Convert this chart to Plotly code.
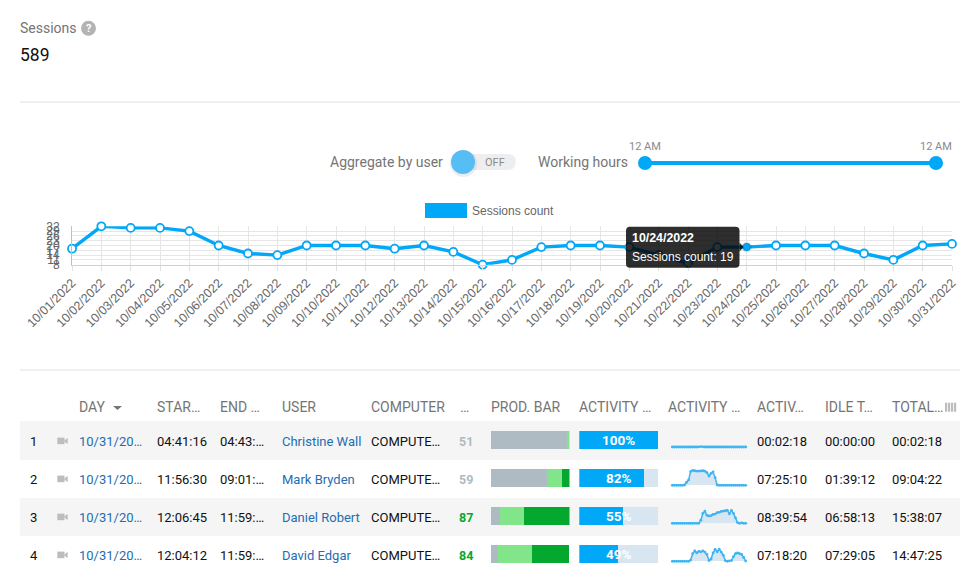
import plotly.graph_objects as go

W = 980
H = 587

# chart data
days = ['10/%02d/2022' % d for d in range(1, 32)]
sessions = [18, 32, 31, 31, 29, 20, 15, 14, 20, 20, 20, 18, 20, 16, 8, 11,
            19, 20, 20, 19, 14, 9, 19, 19, 20, 20, 20, 15, 11, 20, 21]
y_ticks = [8, 11, 14, 17, 20, 23, 26, 29, 32]

# table data
headers = ['DAY', 'STAR…', 'END …', 'USER', 'COMPUTER', '…', 'PROD. BAR',
           'ACTIVITY …', 'ACTIVITY …', 'ACTIV…', 'IDLE T…', 'TOTAL…']
row_no = ['1', '2', '3', '4']
row_day = ['10/31/20…', '10/31/20…', '10/31/20…', '10/31/20…']
row_start = ['04:41:16', '11:56:30', '12:06:45', '12:04:12']
row_end = ['04:43:…', '09:01:…', '11:59:…', '11:59:…']
row_user = ['Christine Wall', 'Mark Bryden', 'Daniel Robert', 'David Edgar']
row_computer = ['COMPUTE…', 'COMPUTE…', 'COMPUTE…', 'COMPUTE…']
row_score = ['51', '59', '87', '84']
row_active = ['00:02:18', '07:25:10', '08:39:54', '07:18:20']
row_idle = ['00:00:00', '01:39:12', '06:58:13', '07:29:05']
row_total = ['00:02:18', '09:04:22', '15:38:07', '14:47:25']

prod_gray = [97, 72, 12, 9]
prod_light = [3, 18, 30, 44]
prod_dark = [0, 10, 58, 46]
activity = [100, 82, 55, 49]
activity_rest = [0, 18, 45, 51]

spark1 = [0, 0, 0, 0, 0, 0, 0, 0, 0, 0, 0, 0, 0, 1, 3, 1, 0, 0, 0,
          0, 0, 0, 0, 0, 0, 0, 0, 0, 0, 0, 0, 0, 0, 0, 0, 0, 0]
spark2 = [0, 0, 0, 0, 0, 0, 2, 20, 35, 90, 98, 95, 93, 93, 94, 95, 92, 83, 60,
          78, 88, 50, 2, 0, 0, 0, 0, 0, 0, 0, 0, 0, 0, 0, 0, 0, 0]
spark3 = [0, 0, 0, 0, 0, 0, 0, 0, 0, 0, 0, 0, 0, 0, 20, 65, 80, 52, 48,
          50, 58, 60, 70, 72, 78, 80, 82, 85, 62, 85, 65, 35, 5, 0, 3, 0, 0]
spark4 = [0, 0, 0, 0, 0, 0, 0, 0, 0, 8, 50, 68, 55, 65, 62, 68, 60, 45, 5,
          15, 55, 78, 62, 80, 60, 40, 5, 0, 3, 5, 30, 50, 55, 50, 45, 25, 2]
sparks = [spark1, spark2, spark3, spark4]

BLUE = '#00a8f7'
GRAY = '#757575'
LINK = '#1f6db2'
ROBOTO = 'Roboto'


def fx(x):
    return x / W


def fy(y):
    return 1 - y / H


def pt(x, y):
    return '%.5f,%.5f' % (fx(x), fy(y))


def rect(x0, y0, x1, y1, color, layer='above'):
    return dict(type='rect', xref='paper', yref='paper', x0=fx(x0), x1=fx(x1), y0=fy(y0), y1=fy(y1),
                fillcolor=color, line=dict(width=0), layer=layer)


def circle(cx, cy, r, color):
    return dict(type='circle', xref='paper', yref='paper', x0=fx(cx - r), x1=fx(cx + r),
                y0=fy(cy - r), y1=fy(cy + r), fillcolor=color, line=dict(width=0))


def line(x0, y0, x1, y1, color, width=1):
    return dict(type='line', xref='paper', yref='paper', x0=fx(x0), x1=fx(x1), y0=fy(y0), y1=fy(y1),
                line=dict(color=color, width=width))


def round_rect(x0, y0, x1, y1, r, color):
    p = 'M ' + pt(x0 + r, y0) + ' L ' + pt(x1 - r, y0) + ' Q ' + pt(x1, y0) + ' ' + pt(x1, y0 + r)
    p += ' L ' + pt(x1, y1 - r) + ' Q ' + pt(x1, y1) + ' ' + pt(x1 - r, y1)
    p += ' L ' + pt(x0 + r, y1) + ' Q ' + pt(x0, y1) + ' ' + pt(x0, y1 - r)
    p += ' L ' + pt(x0, y0 + r) + ' Q ' + pt(x0, y0) + ' ' + pt(x0 + r, y0) + ' Z'
    return dict(type='path', xref='paper', yref='paper', path=p, fillcolor=color, line=dict(width=0))


def poly(points, color):
    p = 'M ' + ' L '.join(pt(x, y) for x, y in points) + ' Z'
    return dict(type='path', xref='paper', yref='paper', path=p, fillcolor=color, line=dict(width=0))


def label(x, y, text, size=13, color='#111111', anchor='left', bold=False, font=ROBOTO):
    if bold:
        text = '<b>' + text + '</b>'
    return dict(xref='paper', yref='paper', x=fx(x), y=fy(y), text=text, showarrow=False,
                xanchor=anchor, yanchor='middle', font=dict(family=font, size=size, color=color),
                borderpad=0, borderwidth=0)


fig = go.Figure()

# main line chart
marker_fill = ['white'] * len(days)
marker_line = [BLUE] * len(days)
marker_size = [8] * len(days)
marker_width = [1.8] * len(days)
marker_fill[23] = BLUE
marker_line[23] = 'rgba(0,0,0,0.1)'
marker_size[23] = 8
marker_width[23] = 2.5
fig.add_trace(go.Scatter(x=days, y=sessions, mode='lines+markers', cliponaxis=False,
                         line=dict(color=BLUE, width=3.4),
                         marker=dict(color=marker_fill, size=marker_size, opacity=1,
                                     line=dict(color=marker_line, width=marker_width))))

# prod bar
bar_x = dict(xaxis='x2', yaxis='y2', orientation='h', width=0.474, marker_line_width=0)
fig.add_trace(go.Bar(x=prod_gray, y=[0, 1, 2, 3], marker_color='#aebbc2', **bar_x))
fig.add_trace(go.Bar(x=prod_light, y=[0, 1, 2, 3], marker_color='#82e58a', **bar_x))
fig.add_trace(go.Bar(x=prod_dark, y=[0, 1, 2, 3], marker_color='#04a82e', **bar_x))

# activity bar
bar_a = dict(xaxis='x3', yaxis='y2', orientation='h', width=0.474, marker_line_width=0)
fig.add_trace(go.Bar(x=activity, y=[0, 1, 2, 3], marker_color=BLUE, **bar_a))
fig.add_trace(go.Bar(x=activity_rest, y=[0, 1, 2, 3], marker_color='#d7e6f0', **bar_a))

# sparklines
spark_base = [447, 485.3, 523.3, 561.3]
for i in range(4):
    fig.add_trace(go.Scatter(x=list(range(len(sparks[i]))), y=sparks[i], mode='lines+markers',
                             xaxis='x%d' % (i + 4), yaxis='y%d' % (i + 3), cliponaxis=False,
                             line=dict(color='#3fb4f2', width=1.5),
                             marker=dict(color='#3fb4f2', size=2.8),
                             fill='tozeroy', fillcolor='#d7e6f0'))
    fig.layout['xaxis%d' % (i + 4)] = dict(domain=[fx(672.3), fx(745.7)], range=[0, 36], visible=False,
                                           anchor='y%d' % (i + 3), automargin=False)
    fig.layout['yaxis%d' % (i + 3)] = dict(domain=[fy(spark_base[i]), fy(spark_base[i] - 15.3)],
                                           range=[0, 100], visible=False, anchor='x%d' % (i + 4),
                                           automargin=False)

shapes = []
annots = []

# header
annots.append(label(20, 28, 'Sessions', 14, GRAY))
shapes.append(circle(88.5, 28.3, 7.5, '#b3b3b3'))
annots.append(label(88.5, 28.5, '?', 11, 'white', 'center', True))
annots.append(label(20, 55, '589', 17.5, '#111111'))
shapes.append(line(20, 102, 960, 102, '#e2e2e2'))
shapes.append(line(20, 370, 960, 370, '#e2e2e2'))

# toggle and slider
annots.append(label(330, 162.5, 'Aggregate by user', 14, GRAY))
shapes.append(round_rect(452, 154, 515.7, 170, 8, '#eeeeee'))
shapes.append(circle(463.5, 163.5, 13.5, 'rgba(0,0,0,0.07)'))
shapes.append(circle(463, 162, 12, '#56bdf5'))
annots.append(label(495, 162.5, 'OFF', 11, '#8a8a8a', 'center'))
annots.append(label(538, 162.5, 'Working hours', 14, GRAY))
annots.append(label(645, 146.5, '12 AM', 11, '#8a8a8a', 'center'))
annots.append(label(936, 146.5, '12 AM', 11, '#8a8a8a', 'center'))
shapes.append(line(645, 163, 936, 163, BLUE, 4))
shapes.append(circle(645, 163, 7, BLUE))
shapes.append(circle(936, 163, 7, BLUE))

# legend
shapes.append(rect(425, 203, 467, 218, BLUE))
annots.append(label(472, 211, 'Sessions count', 12, '#666666', font='Liberation Sans'))

# tooltip
shapes.append(round_rect(626, 226.7, 739.5, 267.7, 4, 'rgba(0,0,0,0.82)'))
shapes.append(poly([(739.5, 242.5), (743.5, 247), (739.5, 251.5)], 'rgba(0,0,0,0.82)'))
annots.append(label(632, 238, '10/24/2022', 12.4, 'white', bold=True, font='Liberation Sans'))
annots.append(label(632, 257, '<span>Sessions count: 19</span>', 12, 'white', font='Liberation Sans'))

# table stripes and header
shapes.append(rect(20, 421, 960, 460, '#f5f5f5', 'below'))
shapes.append(rect(20, 498, 960, 536, '#f5f5f5', 'below'))
head_x = [79, 157, 219.5, 282, 371, 460, 491, 579, 668, 757, 824.5, 892]
for x, h in zip(head_x, headers):
    annots.append(label(x, 407.3, h, 14, GRAY))
shapes.append(poly([(113, 406), (122, 406), (117.5, 410)], '#757575'))
for x in [945, 948, 951, 954]:
    shapes.append(rect(x, 402.7, x + 2.2, 411.7, '#bdbdbd'))

# table rows
row_y = [441, 479, 517, 555]
score_color = ['#aebbc2', '#aebbc2', '#04a82e', '#04a82e']
for i, y in enumerate(row_y):
    annots.append(label(30, y, row_no[i], 13, '#111111'))
    shapes.append(rect(57.3, y - 3.4, 64.5, y + 3.2, '#bdbdbd'))
    shapes.append(poly([(64.5, y - 0.8), (67.7, y - 3), (67.7, y + 3), (64.5, y + 0.8)], '#bdbdbd'))
    annots.append(label(79, y, row_day[i], 13, LINK))
    annots.append(label(157, y, row_start[i], 13))
    annots.append(label(219.5, y, row_end[i], 13))
    annots.append(label(282, y, row_user[i], 13, LINK))
    annots.append(label(371, y, row_computer[i], 13))
    annots.append(label(459.3, y, row_score[i], 12.5, score_color[i], bold=True))
    annots.append(label(618.5, y - 1.5, '%d%%' % activity[i], 13.5, 'white', 'center', True))
    annots.append(label(757, y, row_active[i], 13))
    annots.append(label(824.5, y, row_idle[i], 13))
    annots.append(label(892, y, row_total[i], 13))

fig.update_layout(
    width=W, height=H, margin=dict(l=0, r=0, t=0, b=0), autosize=False,
    paper_bgcolor='white', plot_bgcolor='white', showlegend=False, barmode='stack',
    font=dict(family='Liberation Sans', size=12, color='#666666'),
    shapes=shapes, annotations=annots,
    xaxis=dict(domain=[fx(72), fx(952)], range=[0, 30], type='category', dtick=1, tickangle=-45,
               showgrid=True, gridcolor='#e6e6e6', showline=True, linecolor='#d0d0d0', automargin=False,
               ticks='outside', ticklen=5, tickcolor='#e0e0e0', tickfont=dict(size=12.5, color='#666666')),
    yaxis=dict(domain=[fy(264.7), fy(226.3)], range=[8, 32], tickvals=y_ticks, showgrid=True,
               gridcolor='#e6e6e6', zeroline=False, showline=True, linecolor='#c0c0c0', automargin=False,
               ticks='outside', ticklen=9, tickcolor='rgba(0,0,0,0)',
               tickfont=dict(size=12, color='#666666')),
    xaxis2=dict(domain=[fx(490.5), fx(569.5)], range=[0, 100], visible=False, anchor='y2', automargin=False),
    xaxis3=dict(domain=[fx(579.3), fx(658)], range=[0, 100], visible=False, anchor='y2', automargin=False),
    yaxis2=dict(domain=[fy(573), fy(421)], range=[3.5, -0.5], visible=False, anchor='x2', automargin=False),
)

fig.write_html('out.html', config=dict(displayModeBar=False), post_script="document.body.style.margin='0';")
